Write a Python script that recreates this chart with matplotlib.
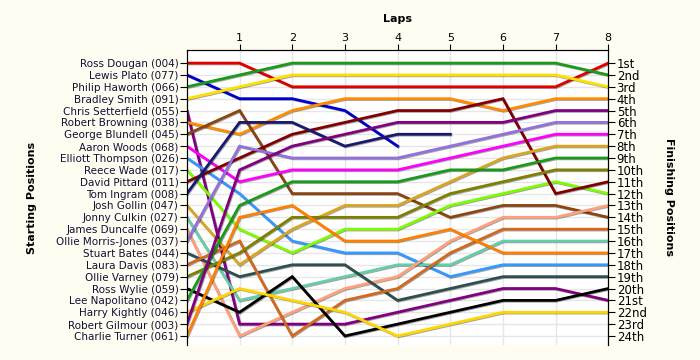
import matplotlib
matplotlib.use("Agg")
import matplotlib.pyplot as plt
import matplotlib.patheffects as pe

drivers = ["Ross Dougan (004)", "Lewis Plato (077)", "Philip Haworth (066)",
           "Bradley Smith (091)", "Chris Setterfield (055)", "Robert Browning (038)",
           "George Blundell (045)", "Aaron Woods (068)", "Elliott Thompson (026)",
           "Reece Wade (017)", "David Pittard (011)", "Tom Ingram (008)",
           "Josh Gollin (047)", "Jonny Culkin (027)", "James Duncalfe (069)",
           "Ollie Morris-Jones (037)", "Stuart Bates (044)", "Laura Davis (083)",
           "Ollie Varney (079)", "Ross Wylie (059)", "Lee Napolitano (042)",
           "Harry Kightly (046)", "Robert Gilmour (003)", "Charlie Turner (061)"]

# position after each lap (lap 0 = grid), short lists = retired
positions = [
    [1, 1, 3, 3, 3, 3, 3, 3, 1],
    [2, 4, 4, 5, 8],
    [3, 2, 1, 1, 1, 1, 1, 1, 2],
    [4, 3, 2, 2, 2, 2, 2, 2, 3],
    [5, 23, 23, 23, 22, 21, 20, 20, 21],
    [6, 7, 5, 4, 4, 4, 5, 4, 4],
    [7, 5, 12, 12, 12, 14, 13, 13, 14],
    [8, 11, 10, 10, 10, 9, 8, 7, 7],
    [9, 12, 16, 17, 17, 19, 18, 18, 18],
    [10, 15, 17, 15, 15, 13, 12, 11, 12],
    [11, 9, 7, 6, 5, 5, 4, 12, 11],
    [12, 6, 6, 8, 7, 7],
    [13, 18, 15, 13, 13, 11, 9, 8, 8],
    [14, 21, 20, 19, 18, 18, 16, 16, 16],
    [15, 24, 22, 20, 19, 16, 14, 14, 13],
    [16, 8, 9, 9, 9, 8, 7, 6, 6],
    [17, 19, 18, 18, 21, 20, 19, 19, 19],
    [18, 16, 24, 21, 20, 17, 15, 15, 15],
    [19, 17, 14, 14, 14, 12, 11, 10, 10],
    [20, 22, 19, 24, 23, 22, 21, 21, 20],
    [21, 13, 11, 11, 11, 10, 10, 9, 9],
    [22, 20, 21, 22, 24, 23, 22, 22, 22],
    [23, 10, 8, 7, 6, 6, 6, 5, 5],
    [24, 14, 13, 16, 16, 15, 17, 17, 17],
]

colors = ["#E00000", "#0000CD", "#1A9A1A", "#FFE000", "#800080", "#FF8C00",
          "#8B4513", "#FF00FF", "#3399FF", "#7CFC00", "#800000", "#191970",
          "#DAA520", "#66CDAA", "#FFA07A", "#9370DB", "#2F4F4F", "#D2691E",
          "#808000", "#000000", "#1A9A1A", "#FFD700", "#800080", "#FF7F00"]

finish_labels = ["1st", "2nd", "3rd"] + ["%dth" % i for i in range(4, 21)] + \
                ["21st", "22nd", "23rd", "24th"]
laps = list(range(1, 9))

plt.rcParams['font.family'] = ['DejaVu Sans']
fig = plt.figure(figsize=(7, 3.6), dpi=100, facecolor="#FFFDF2")
ax = fig.add_axes([0.267, 0.042, 0.602, 0.819])
ax.set_facecolor("white")

for pos, c in zip(positions, colors):
    ax.plot(range(len(pos)), pos, color=c, lw=2, solid_joinstyle="miter",
            path_effects=[pe.SimpleLineShadow(offset=(0.6, -0.6), alpha=0.35),
                          pe.Normal()])

ax.set_xlim(0, 8)
ax.set_ylim(24.75, -0.1)
ax.set_xticks(laps)
ax.xaxis.tick_top()
ax.set_yticks(range(1, 25))
ax.set_yticklabels(drivers, fontsize=7.5, color="#111133")
ax.tick_params(axis="x", labelsize=8, length=4, pad=1)
ax.tick_params(axis="y", length=5, pad=1)
ax.grid(True, color="#E6E6E6", lw=1)
ax.set_axisbelow(True)
ax.spines["bottom"].set_visible(False)
ax.xaxis.set_label_position("top")
ax.set_xlabel("Laps", fontsize=8, fontweight="bold", labelpad=8)
ax.set_ylabel("Starting Positions", fontsize=8, fontweight="bold", labelpad=14)

ax2 = ax.twinx()
ax2.set_ylim(ax.get_ylim())
ax2.set_yticks(range(1, 25))
ax2.set_yticklabels(finish_labels, fontsize=8.5)
ax2.tick_params(axis="y", length=5, pad=1)
ax2.spines["bottom"].set_visible(False)
ax2.set_ylabel("Finishing Positions", fontsize=8, fontweight="bold",
               rotation=270, labelpad=20)

fig.savefig("out.png", dpi=100, facecolor=fig.get_facecolor())
